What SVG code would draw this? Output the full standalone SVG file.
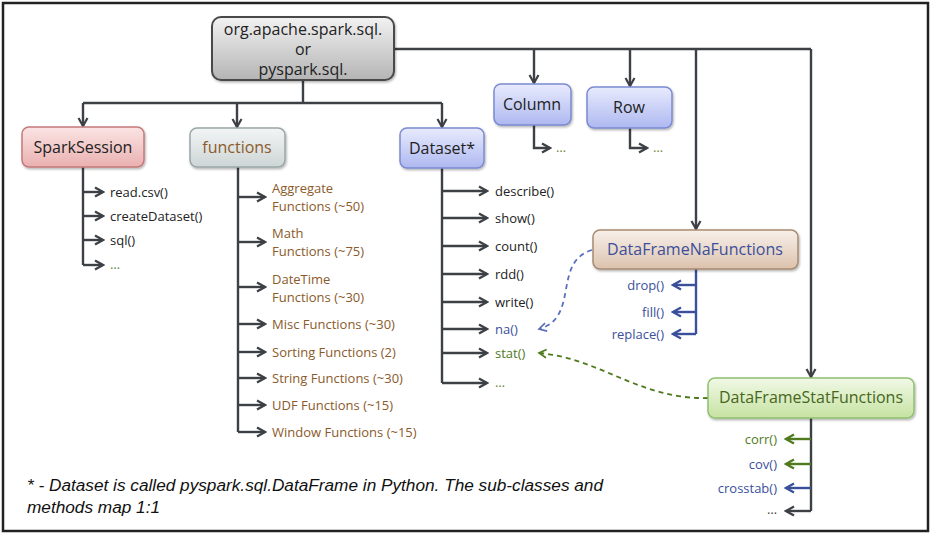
<svg xmlns="http://www.w3.org/2000/svg" width="934" height="536" viewBox="0 0 934 536">
<defs>
<style>
.node text{font-family:"Open Sans","DejaVu Sans",sans-serif;font-size:16px;text-anchor:middle}
.item{font-family:"Open Sans","DejaVu Sans",sans-serif;font-size:13px}
.ln{fill:none;stroke:#3d4045;stroke-width:2.4}
.blue{fill:none;stroke:#3b4f9b;stroke-width:2.4}
.green{fill:none;stroke:#4f7a1e;stroke-width:2.4}
.a{marker-end:url(#ah)}
.ab{marker-end:url(#ahb)}
.ag{marker-end:url(#ahg)}
.brown{fill:#8b5a2b}
.dark{fill:#222}
.bt{fill:#3b4f9b}
.gt{fill:#4f7a1e}
.dots{fill:#6a8a3a}
</style>
<marker id="ah" viewBox="0 0 12 12" refX="10" refY="6" markerWidth="12" markerHeight="12" markerUnits="userSpaceOnUse" orient="auto"><path d="M2,1.5 L10,6 L2,10.5" fill="none" stroke="#3d4045" stroke-width="2.2"/></marker>
<marker id="ahb" viewBox="0 0 12 12" refX="10" refY="6" markerWidth="12" markerHeight="12" markerUnits="userSpaceOnUse" orient="auto"><path d="M2,1.5 L10,6 L2,10.5" fill="none" stroke="#3b4f9b" stroke-width="2.2"/></marker>
<marker id="ahg" viewBox="0 0 12 12" refX="10" refY="6" markerWidth="12" markerHeight="12" markerUnits="userSpaceOnUse" orient="auto"><path d="M2,1.5 L10,6 L2,10.5" fill="none" stroke="#4f7a1e" stroke-width="2.2"/></marker>
<marker id="ahbd" viewBox="0 0 12 12" refX="10" refY="6" markerWidth="11" markerHeight="11" markerUnits="userSpaceOnUse" orient="auto"><path d="M2,1.5 L10,6 L2,10.5" fill="none" stroke="#5a6fc0" stroke-width="1.8"/></marker>
<marker id="ahgd" viewBox="0 0 12 12" refX="10" refY="6" markerWidth="11" markerHeight="11" markerUnits="userSpaceOnUse" orient="auto"><path d="M2,1.5 L10,6 L2,10.5" fill="none" stroke="#4f7a1e" stroke-width="1.8"/></marker>
<linearGradient id="gGray" x1="0" y1="0" x2="0" y2="1"><stop offset="0" stop-color="#f2f2f2"/><stop offset="1" stop-color="#b4b4b4"/></linearGradient>
<linearGradient id="gRed" x1="0" y1="0" x2="0" y2="1"><stop offset="0" stop-color="#fbe4e4"/><stop offset="1" stop-color="#eab0b0"/></linearGradient>
<linearGradient id="gFun" x1="0" y1="0" x2="0" y2="1"><stop offset="0" stop-color="#f3f5f5"/><stop offset="1" stop-color="#cdd5d5"/></linearGradient>
<linearGradient id="gBlue" x1="0" y1="0" x2="0" y2="1"><stop offset="0" stop-color="#e8ebfd"/><stop offset="1" stop-color="#aeb8f0"/></linearGradient>
<linearGradient id="gTan" x1="0" y1="0" x2="0" y2="1"><stop offset="0" stop-color="#f8f0ea"/><stop offset="1" stop-color="#dcc2ae"/></linearGradient>
<linearGradient id="gGreen" x1="0" y1="0" x2="0" y2="1"><stop offset="0" stop-color="#f1f9e6"/><stop offset="1" stop-color="#c6e2a2"/></linearGradient>
<filter id="sh" x="-10%" y="-20%" width="125%" height="150%"><feDropShadow dx="1" dy="1.5" stdDeviation="1.2" flood-color="#000" flood-opacity="0.3"/></filter>
</defs>
<rect x="3" y="3" width="925" height="528" fill="#fff" stroke="#222" stroke-width="2.5"/>

<g id="connectors">
<path class="ln" d="M303,80 V103 M83,103 H442 M394,49 H811"/>
<path class="ln a" d="M83,103 V126"/>
<path class="ln a" d="M237,103 V127"/>
<path class="ln a" d="M442,103 V127"/>
<path class="ln a" d="M534,49 V83"/>
<path class="ln a" d="M630,49 V86"/>
<path class="ln a" d="M696,49 V229"/>
<path class="ln a" d="M811,49 V377"/>
<path class="ln a" d="M534,125 V148 H550"/>
<path class="ln a" d="M630,128 V148 H647"/>
<path class="ln" d="M83,167 V265"/>
<path class="ln a" d="M83,192 H103"/>
<path class="ln a" d="M83,216 H103"/>
<path class="ln a" d="M83,240 H103"/>
<path class="ln a" d="M83,265 H103"/>
<path class="ln" d="M238,167 V432"/>
<path class="ln a" d="M238,197 H265"/>
<path class="ln a" d="M238,242 H265"/>
<path class="ln a" d="M238,287 H265"/>
<path class="ln a" d="M238,324 H265"/>
<path class="ln a" d="M238,352 H265"/>
<path class="ln a" d="M238,378 H265"/>
<path class="ln a" d="M238,405 H265"/>
<path class="ln a" d="M238,432 H265"/>
<path class="ln" d="M442,168 V383"/>
<path class="ln a" d="M442,191 H487"/>
<path class="ln a" d="M442,218 H487"/>
<path class="ln a" d="M442,246 H487"/>
<path class="ln a" d="M442,274 H487"/>
<path class="ln a" d="M442,302 H487"/>
<path class="ln a" d="M442,329 H487"/>
<path class="ln a" d="M442,353 H487"/>
<path class="ln a" d="M442,383 H487"/>
<path class="blue" d="M696,269 V334"/>
<path class="blue ab" d="M696,285 H673"/>
<path class="blue ab" d="M696,312 H673"/>
<path class="blue ab" d="M696,334 H673"/>
<path class="ln" d="M811,418 V511"/>
<path class="green ag" d="M811,439 H786"/>
<path class="green ag" d="M811,464 H786"/>
<path class="blue ab" d="M811,488 H786"/>
<path class="ln a" d="M811,511 H786"/>
<path d="M592,250 C552,262 580,318 539,329" fill="none" stroke="#5a6fc0" stroke-width="1.8" stroke-dasharray="5,4" marker-end="url(#ahbd)"/>
<path d="M708,398 C640,400 600,358 539,353" fill="none" stroke="#4f7a1e" stroke-width="1.8" stroke-dasharray="5,4" marker-end="url(#ahgd)"/>
</g>

<g id="root" class="node">
<rect x="212" y="17" width="182" height="63" rx="9" fill="url(#gGray)" stroke="#4a4a4a" stroke-width="2" filter="url(#sh)"/>
<text x="303" y="35" class="dark">org.apache.spark.sql.</text>
<text x="303" y="55" class="dark">or</text>
<text x="303" y="75" class="dark">pyspark.sql.</text>
</g>

<g id="sparksession" class="node">
<rect x="22" y="127" width="122" height="40" rx="7" fill="url(#gRed)" stroke="#c47a7a" stroke-width="1.5" filter="url(#sh)"/>
<text x="83" y="153" class="dark">SparkSession</text>
</g>
<g id="sparksession-items" class="item dark">
<text x="110" y="196.5">read.csv()</text>
<text x="110" y="220.5">createDataset()</text>
<text x="110" y="244.5">sql()</text>
<text x="110" y="269" class="dots">…</text>
</g>

<g id="functions" class="node">
<rect x="190" y="128" width="95" height="39" rx="7" fill="url(#gFun)" stroke="#9aa6a6" stroke-width="1.5" filter="url(#sh)"/>
<text x="237" y="153" class="brown">functions</text>
</g>
<g id="functions-items" class="item brown">
<text x="272" y="193">Aggregate</text>
<text x="272" y="211">Functions (~50)</text>
<text x="272" y="238">Math</text>
<text x="272" y="256">Functions (~75)</text>
<text x="272" y="284">DateTime</text>
<text x="272" y="302">Functions (~30)</text>
<text x="272" y="328.5">Misc Functions (~30)</text>
<text x="272" y="356.5">Sorting Functions (2)</text>
<text x="272" y="382.5">String Functions (~30)</text>
<text x="272" y="409.5">UDF Functions (~15)</text>
<text x="272" y="436.5">Window Functions (~15)</text>
</g>

<g id="dataset" class="node">
<rect x="400" y="128" width="84" height="40" rx="7" fill="url(#gBlue)" stroke="#7b8ad0" stroke-width="1.5" filter="url(#sh)"/>
<text x="442" y="154" class="dark">Dataset*</text>
</g>
<g id="dataset-items" class="item dark">
<text x="495" y="195.5">describe()</text>
<text x="495" y="222.5">show()</text>
<text x="495" y="250.5">count()</text>
<text x="495" y="278.5">rdd()</text>
<text x="495" y="306.5">write()</text>
<text x="495" y="333.5" class="bt">na()</text>
<text x="495" y="357.5" class="gt">stat()</text>
<text x="495" y="387" class="dots">…</text>
</g>

<g id="column" class="node">
<rect x="494" y="84" width="77" height="41" rx="7" fill="url(#gBlue)" stroke="#7b8ad0" stroke-width="1.5" filter="url(#sh)"/>
<text x="532" y="110" class="dark">Column</text>
</g>
<text x="556" y="152" class="item dots">…</text>

<g id="row" class="node">
<rect x="587" y="87" width="85" height="41" rx="7" fill="url(#gBlue)" stroke="#7b8ad0" stroke-width="1.5" filter="url(#sh)"/>
<text x="629" y="113" class="dark">Row</text>
</g>
<text x="653" y="152" class="item dots">…</text>

<g id="dataframenafunctions" class="node">
<rect x="593" y="230" width="205" height="39" rx="7" fill="url(#gTan)" stroke="#a88a70" stroke-width="1.5" filter="url(#sh)"/>
<text x="695" y="255" class="bt">DataFrameNaFunctions</text>
</g>
<g id="na-items" class="item bt" text-anchor="end">
<text x="664" y="289.5">drop()</text>
<text x="664" y="316.5">fill()</text>
<text x="664" y="338.5">replace()</text>
</g>

<g id="dataframestatfunctions" class="node">
<rect x="708" y="378" width="206" height="40" rx="7" fill="url(#gGreen)" stroke="#90c070" stroke-width="1.5" filter="url(#sh)"/>
<text x="811" y="403" style="fill:#46661c">DataFrameStatFunctions</text>
</g>
<g id="stat-items" class="item" text-anchor="end">
<text x="777" y="443.5" class="gt">corr()</text>
<text x="777" y="468.5" class="bt">cov()</text>
<text x="777" y="492.5" class="bt">crosstab()</text>
<text x="777" y="514" style="fill:#444">…</text>
</g>

<g id="footnote" font-family="'Liberation Sans',Arial,sans-serif" font-style="italic" font-size="16" fill="#111">
<text x="27" y="491" textLength="576" lengthAdjust="spacingAndGlyphs">* - Dataset is called pyspark.sql.DataFrame in Python. The sub-classes and</text>
<text x="27" y="513" textLength="133" lengthAdjust="spacingAndGlyphs">methods map 1:1</text>
</g>
</svg>
